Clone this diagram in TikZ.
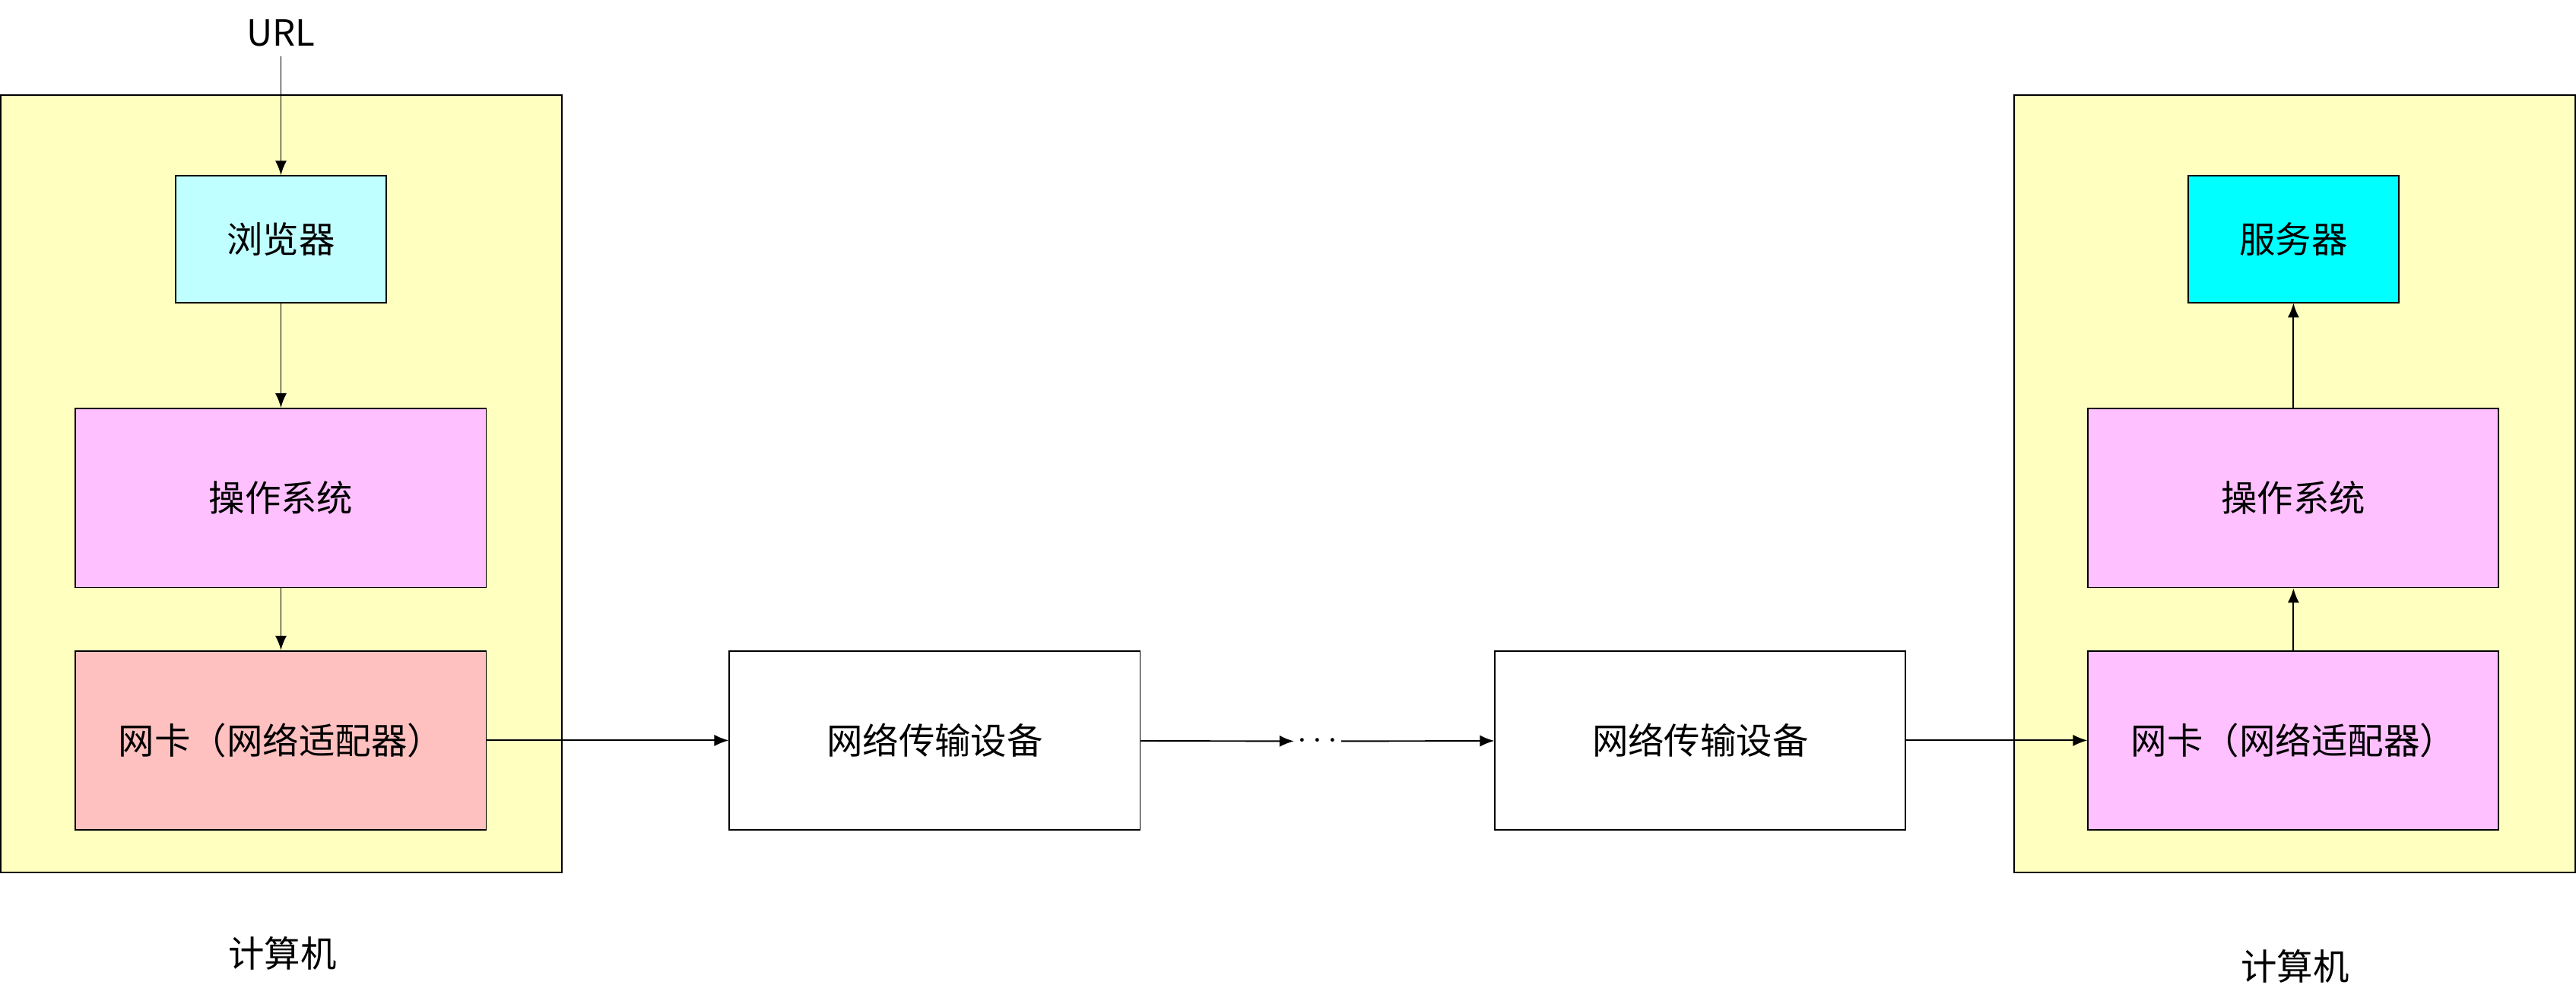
\documentclass[tikz,border=0pt]{standalone}
\usepackage{fontspec}
\setmainfont{Noto Sans CJK SC}
\usepackage{tikz}
\usetikzlibrary{arrows.meta,positioning}
\definecolor{hostcolor}{HTML}{FFFFC0}
\definecolor{browsercolor}{HTML}{C0FFFF}
\definecolor{oscolor}{HTML}{FFC0FF}
\definecolor{niccolor}{HTML}{FFC0C0}
\definecolor{servercolor}{HTML}{00FFFF}

\begin{document}
\begin{tikzpicture}[x=0.02cm, y=-0.02cm,
  host/.style={draw, fill=hostcolor, line width=0.5pt},
  wide/.style={draw, minimum width=5cm, minimum height=2.18cm,
               font=\fontsize{12.5}{15}\selectfont, line width=0.5pt},
  small/.style={draw, minimum width=2.56cm, minimum height=1.54cm,
                font=\fontsize{12.5}{15}\selectfont, line width=0.5pt},
  lbl/.style={font=\fontsize{12.5}{15}\selectfont},
  arrow/.style={-{Latex[length=5pt,width=4pt]}, line width=0.5pt},
]
  \useasboundingbox (0,0) rectangle (1568,609);

  % Computers
  \draw[host] (0.5,58) rectangle (342,531);
  \draw[host] (1226,58) rectangle (1567.5,531);
  \node[lbl] (hostl) at (172,580) {计算机};
  \node[lbl] (hostr) at (1397,588) {计算机};

  % Client side
  \node[lbl] (url) at (171,20) {URL};
  \node[small, fill=browsercolor] (browser) at (171,145.5) {浏览器};
  \node[wide, fill=oscolor] (osl) at (171,303) {操作系统};
  \node[wide, fill=niccolor] (nicl) at (171,450.5) {网卡（网络适配器）};

  % Network
  \node[wide, fill=white] (dev1) at (569,450.5) {网络传输设备};
  \node[lbl, inner sep=1pt] (dots) at (802,451) {$\cdots$};
  \node[wide, fill=white] (dev2) at (1035,450.5) {网络传输设备};

  % Server side
  \node[small, fill=servercolor] (server) at (1396,145.5) {服务器};
  \node[wide, fill=oscolor] (osr) at (1396,303) {操作系统};
  \node[wide, fill=oscolor] (nicr) at (1396,450.5) {网卡（网络适配器）};

  % Connectors
  \draw[arrow] (url) -- (browser);
  \draw[arrow] (browser) -- (osl);
  \draw[arrow] (osl) -- (nicl);
  \draw[arrow] (nicl) -- (dev1);
  \draw[arrow] (dev1) -- (dots);
  \draw[arrow] (dots) -- (dev2);
  \draw[arrow] (dev2) -- (nicr);
  \draw[arrow] (nicr) -- (osr);
  \draw[arrow] (osr) -- (server);
\end{tikzpicture}
\end{document}
